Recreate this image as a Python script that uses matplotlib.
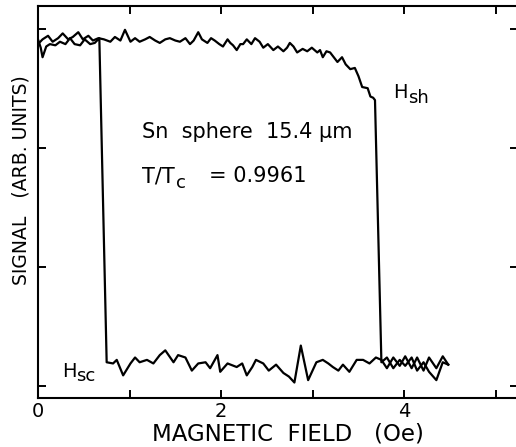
import numpy as np
import matplotlib
matplotlib.use('Agg')
import matplotlib.pyplot as plt

plt.rcParams['font.family'] = 'DejaVu Sans'
plt.rcParams['mathtext.default'] = 'regular'

# increasing-field sweep: superconducting (high) until H_sh, then normal (low)
field_up = [0.00, 0.05, 0.11, 0.16, 0.22, 0.27, 0.33, 0.38, 0.44, 0.49, 0.55, 0.60, 0.66,
            0.72, 0.79, 0.84, 0.90, 0.95, 1.01, 1.06, 1.11, 1.17, 1.22, 1.28, 1.33, 1.39,
            1.44, 1.50, 1.55, 1.61, 1.66, 1.70, 1.75, 1.79, 1.85, 1.89, 1.93, 1.98, 2.02,
            2.07, 2.10, 2.13, 2.17, 2.21, 2.24, 2.28, 2.33, 2.37, 2.42, 2.46, 2.51, 2.57,
            2.62, 2.68, 2.72, 2.75, 2.79, 2.83, 2.89, 2.94, 2.99, 3.05, 3.08, 3.11, 3.15,
            3.19, 3.22, 3.27, 3.32, 3.36, 3.41, 3.46, 3.50, 3.54, 3.60, 3.63, 3.66, 3.68,
            3.75, 3.81, 3.88, 3.95, 4.01, 4.08, 4.14, 4.21, 4.27, 4.35, 4.42, 4.48]
signal_up = [2.87, 2.91, 2.94, 2.89, 2.92, 2.96, 2.91, 2.93, 2.97, 2.91, 2.94, 2.90, 2.92,
             2.91, 2.89, 2.93, 2.90, 2.99, 2.89, 2.92, 2.89, 2.91, 2.93, 2.90, 2.88, 2.91,
             2.92, 2.90, 2.89, 2.92, 2.87, 2.90, 2.97, 2.91, 2.88, 2.92, 2.90, 2.87, 2.85,
             2.91, 2.88, 2.86, 2.82, 2.87, 2.87, 2.91, 2.87, 2.92, 2.89, 2.84, 2.87, 2.82,
             2.85, 2.81, 2.84, 2.88, 2.85, 2.80, 2.83, 2.81, 2.84, 2.80, 2.82, 2.76, 2.81,
             2.80, 2.77, 2.72, 2.76, 2.70, 2.66, 2.67, 2.60, 2.51, 2.50, 2.43, 2.42, 2.40,
             0.20, 0.24, 0.15, 0.22, 0.17, 0.24, 0.13, 0.20, 0.12, 0.05, 0.20, 0.18]

# decreasing-field sweep: normal (low) down to H_sc, then back to high
field_dn = [4.48, 4.42, 4.35, 4.27, 4.21, 4.14, 4.08, 4.01, 3.95, 3.88, 3.81, 3.75, 3.69,
            3.62, 3.55, 3.48, 3.40, 3.33, 3.28, 3.22, 3.17, 3.11, 3.04, 2.95, 2.87, 2.80,
            2.74, 2.68, 2.60, 2.52, 2.46, 2.38, 2.34, 2.28, 2.23, 2.17, 2.07, 1.99, 1.96,
            1.88, 1.83, 1.75, 1.68, 1.61, 1.53, 1.48, 1.39, 1.33, 1.26, 1.19, 1.11, 1.06,
            1.01, 0.93, 0.86, 0.82, 0.75,
            0.67, 0.62, 0.57, 0.51, 0.46, 0.40, 0.35, 0.30, 0.24, 0.19, 0.13, 0.09, 0.05,
            0.03, 0.00]
signal_dn = [0.18, 0.25, 0.15, 0.24, 0.13, 0.24, 0.15, 0.25, 0.17, 0.24, 0.15, 0.22, 0.24,
             0.19, 0.22, 0.22, 0.12, 0.18, 0.13, 0.16, 0.19, 0.22, 0.20, 0.05, 0.34, 0.03,
             0.08, 0.11, 0.18, 0.13, 0.19, 0.22, 0.16, 0.09, 0.19, 0.16, 0.19, 0.12, 0.26,
             0.15, 0.20, 0.19, 0.13, 0.24, 0.26, 0.20, 0.30, 0.26, 0.19, 0.22, 0.20, 0.24,
             0.19, 0.09, 0.22, 0.19, 0.20,
             2.92, 2.88, 2.87, 2.91, 2.86, 2.87, 2.92, 2.87, 2.89, 2.86, 2.87, 2.85, 2.76,
             2.84, 2.91]

fig = plt.figure(figsize=(5.16, 4.47), dpi=100)
ax = fig.add_axes([0.0736, 0.1096, 0.930, 0.877])

ax.plot(field_up, signal_up, color='black', lw=1.6)
ax.plot(field_dn, signal_dn, color='black', lw=1.6)

ax.set_xlim(0, 5.24)
ax.set_ylim(-0.10, 3.19)

for s in ax.spines.values():
    s.set_linewidth(1.5)

ax.set_xticks([0, 1, 2, 3, 4, 5])
ax.set_xticklabels(['0', '', '2', '', '4', ''])
ax.set_yticks([0, 1, 2, 3])
ax.set_yticklabels([])
ax.tick_params(direction='in', length=6, width=1.4, top=True, right=True,
               labelsize=14, pad=3)

ax.set_xlabel('MAGNETIC  FIELD   (Oe)', fontsize=16.5)
ax.xaxis.set_label_coords(0.52, -0.062)
ax.set_ylabel('SIGNAL   (ARB. UNITS)', fontsize=13.5)
ax.yaxis.set_label_coords(-0.015, 0.556)

ax.text(1.14, 2.08, 'Sn  sphere  15.4 \u03bcm', fontsize=15, va='baseline')
ax.text(1.14, 1.71, 'T/T', fontsize=15, va='baseline')
ax.annotate('c', xy=(1.14, 1.71), xytext=(24.5, -4), textcoords='offset points',
            fontsize=13, va='baseline')
ax.text(1.87, 1.71, '= 0.9961', fontsize=15, va='baseline')

# critical field labels with large subscripts
for hx, hy, sub in [(3.88, 2.42, 'sh'), (0.26, 0.08, 'sc')]:
    ax.text(hx, hy, 'H', fontsize=14, va='baseline')
    ax.annotate(sub, xy=(hx, hy), xytext=(10.5, -3.5), textcoords='offset points',
                fontsize=13, va='baseline')

fig.savefig('out.png', dpi=100)
